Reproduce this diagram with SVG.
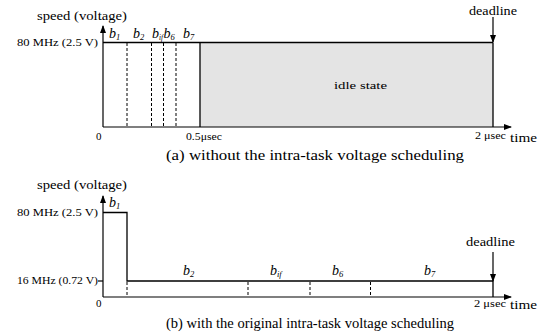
<svg xmlns="http://www.w3.org/2000/svg" width="541" height="332" viewBox="0 0 541 332">
<defs>
<marker id="ah" markerWidth="8" markerHeight="6" refX="7" refY="3" orient="auto" markerUnits="userSpaceOnUse">
<path d="M0,0 L8,3 L0,6 Z" fill="#000"/>
</marker>
<style>
text{font-family:"Liberation Serif","Times New Roman",serif;fill:#000}
.ax{stroke:#000;stroke-width:1.2;fill:none}
.ln{stroke:#000;stroke-width:1.3;fill:none}
.ds{stroke:#000;stroke-width:1;stroke-dasharray:3,2;fill:none}
.lbl{font-size:13px}
.sm{font-size:11px}
.xs{font-size:10px}
.b{font-size:14px;font-style:italic}
.sub{font-size:8.5px;font-style:italic}
.cap{font-size:14px}
</style>
</defs>
<rect width="541" height="332" fill="#fff"/>

<!-- top chart -->
<g id="chartA">
<rect x="200" y="42.5" width="293" height="84.5" fill="#e4e4e4"/>
<g id="connectorsA">
<line class="ax" x1="103" y1="127" x2="103" y2="26" marker-end="url(#ah)"/>
<line class="ax" x1="103" y1="127" x2="511" y2="127" marker-end="url(#ah)"/>
<line class="ln" x1="103" y1="42.5" x2="493" y2="42.5"/>
<line class="ln" x1="493" y1="42.5" x2="493" y2="127"/>
<line class="ln" x1="200" y1="42.5" x2="200" y2="127" stroke="#444"/>
<line class="ds" x1="127" y1="43" x2="127" y2="127"/>
<line class="ds" x1="151.5" y1="43" x2="151.5" y2="127"/>
<line class="ds" x1="163.5" y1="43" x2="163.5" y2="127"/>
<line class="ds" x1="176" y1="43" x2="176" y2="127"/>
<line class="ax" x1="493" y1="17" x2="493" y2="42" marker-end="url(#ah)"/>
</g>
<text class="lbl" x="37" y="20" textLength="90" lengthAdjust="spacingAndGlyphs">speed (voltage)</text>
<text class="sm" x="17" y="45.5" textLength="81" lengthAdjust="spacingAndGlyphs">80 MHz (2.5 V)</text>
<text class="sm" x="96" y="140">0</text>
<text class="sm" x="186" y="140" textLength="36" lengthAdjust="spacingAndGlyphs">0.5μsec</text>
<text class="xs" x="475" y="139" textLength="31" lengthAdjust="spacingAndGlyphs">2 μsec</text>
<text class="lbl" x="510" y="142" textLength="27" lengthAdjust="spacingAndGlyphs">time</text>
<text class="lbl" x="469" y="15" textLength="48" lengthAdjust="spacingAndGlyphs">deadline</text>
<text class="sm" x="334" y="89" textLength="53" lengthAdjust="spacingAndGlyphs">idle state</text>
<text class="b" x="109" y="38">b<tspan class="sub" dy="2">1</tspan></text>
<text class="b" x="133" y="38">b<tspan class="sub" dy="2">2</tspan></text>
<text class="b" x="152" y="38">b<tspan class="sub" dy="2" textLength="4" lengthAdjust="spacingAndGlyphs">if</tspan></text>
<text class="b" x="163.5" y="38">b<tspan class="sub" dy="2">6</tspan></text>
<text class="b" x="183" y="38">b<tspan class="sub" dy="2">7</tspan></text>
<text class="cap" x="166" y="160" textLength="298" lengthAdjust="spacingAndGlyphs">(a) without the intra-task voltage scheduling</text>
</g>

<!-- bottom chart -->
<g id="chartB">
<g id="connectorsB">
<line class="ax" x1="103" y1="297" x2="103" y2="196" marker-end="url(#ah)"/>
<line class="ax" x1="103" y1="297" x2="511" y2="297" marker-end="url(#ah)"/>
<line class="ax" x1="98" y1="281" x2="103" y2="281"/>
<polyline class="ln" points="103,212.5 127,212.5 127,281 493,281 493,297"/>
<line class="ds" x1="127" y1="282" x2="127" y2="297"/>
<line class="ds" x1="248" y1="282" x2="248" y2="297"/>
<line class="ds" x1="310" y1="282" x2="310" y2="297"/>
<line class="ds" x1="370.5" y1="282" x2="370.5" y2="297"/>
<line class="ax" x1="493" y1="252" x2="493" y2="281" marker-end="url(#ah)"/>
</g>
<text class="lbl" x="37" y="189" textLength="90" lengthAdjust="spacingAndGlyphs">speed (voltage)</text>
<text class="sm" x="17" y="215.5" textLength="81" lengthAdjust="spacingAndGlyphs">80 MHz (2.5 V)</text>
<text class="sm" x="17" y="284" textLength="81" lengthAdjust="spacingAndGlyphs">16 MHz (0.72 V)</text>
<text class="sm" x="96" y="307">0</text>
<text class="xs" x="474" y="307" textLength="32" lengthAdjust="spacingAndGlyphs">2 μsec</text>
<text class="lbl" x="510" y="309" textLength="27" lengthAdjust="spacingAndGlyphs">time</text>
<text class="lbl" x="466" y="246" textLength="49" lengthAdjust="spacingAndGlyphs">deadline</text>
<text class="b" x="109" y="207">b<tspan class="sub" dy="2">1</tspan></text>
<text class="b" x="183" y="275">b<tspan class="sub" dy="2">2</tspan></text>
<text class="b" x="270" y="275">b<tspan class="sub" dy="2">if</tspan></text>
<text class="b" x="332" y="275">b<tspan class="sub" dy="2">6</tspan></text>
<text class="b" x="424" y="275">b<tspan class="sub" dy="2">7</tspan></text>
<text class="cap" x="166" y="328" textLength="288" lengthAdjust="spacingAndGlyphs">(b) with the original intra-task voltage scheduling</text>
</g>
</svg>
